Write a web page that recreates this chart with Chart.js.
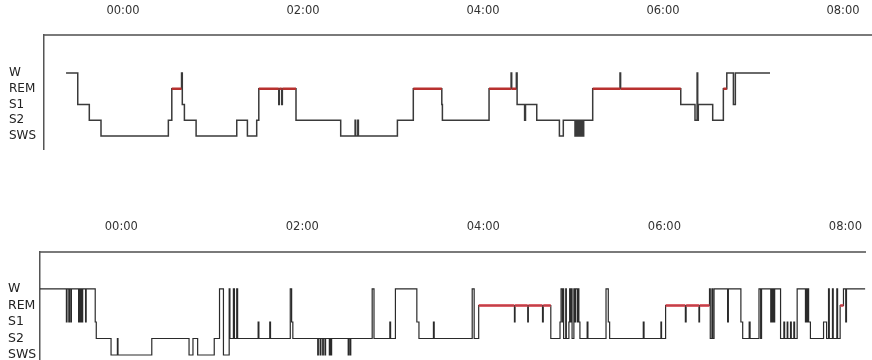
<!DOCTYPE html>
<html>
<head>
<meta charset="utf-8">
<script src="https://cdn.jsdelivr.net/npm/chart.js@4.4.1/dist/chart.umd.min.js"></script>
<style>
  html, body { margin: 0; padding: 0; background: #fff; overflow: hidden; }
  body { width: 872px; height: 360px; position: relative; }
  canvas { position: absolute; left: 0; }
  #topChart { top: 0; }
  #bottomChart { top: 215px; }
</style>
</head>
<body>
<canvas id="topChart" width="872" height="150"></canvas>
<canvas id="bottomChart" width="872" height="157"></canvas>
<script>
// sleep stages, lowest first
const stageLabels = ['SWS', 'S2', 'S1', 'REM', 'W'];
// clock ticks, minutes from midnight
const tickTimes = [0, 120, 240, 360, 480];

// upper hypnogram: minute where each stage starts
const topTimes = [
  -38, -30.2, -22.5, -14.7, 30.2, 32.5, 39, 39.5, 40.9, 48.7,
  75.8, 82.9, 89.1, 90.5, 103.8, 104.2, 105.8, 106.2, 115.3, 145.1,
  154.7, 155.1, 156.5, 156.9, 182.9, 193.5, 212.5, 212.9, 244, 258.7,
  259.1, 262.2, 262.7, 267.7, 268.3, 275.8, 290.9, 293.5, 301.3, 302,
  302.7, 303.3, 304, 304.7, 305.3, 306, 306.7, 307.1, 313.1, 331.3,
  331.7, 371.8, 381.3, 382.7, 383.1, 383.5, 393.1, 400.2, 402.5, 406.9,
  408.2, 431.3
];
const topStages = [
  'W', 'S1', 'S2', 'SWS', 'S2', 'REM', 'W', 'S1', 'S2', 'SWS',
  'S2', 'SWS', 'S2', 'REM', 'S1', 'REM', 'S1', 'REM', 'S2', 'SWS',
  'S2', 'SWS', 'S2', 'SWS', 'S2', 'REM', 'S1', 'S2', 'REM', 'W',
  'REM', 'W', 'S1', 'S2', 'S1', 'S2', 'SWS', 'S2', 'SWS', 'S2',
  'SWS', 'S2', 'SWS', 'S2', 'SWS', 'S2', 'SWS', 'S2', 'REM', 'W',
  'REM', 'S1', 'S2', 'W', 'S2', 'S1', 'S2', 'REM', 'W', 'S1',
  'W', 'W'
];

// lower hypnogram
const bottomTimes = [
  -53.9, -36.4, -36, -34.8, -34.4, -33.5, -33.1, -28.3, -27.8, -27.3,
  -26.8, -26.1, -25.6, -23.7, -23.3, -17.3, -16.6, -6.8, -2.6, -2.2,
  20.2, 44.9, 47.5, 50.6, 61.6, 65.1, 67.7, 71.5, 72, 74.3,
  75, 76.5, 77.1, 90.7, 91.2, 98.4, 98.9, 112, 112.9, 113.7,
  130.2, 130.6, 131.8, 132.3, 133.5, 133.9, 135, 135.4, 137.9, 138.3,
  138.9, 139.4, 150.4, 150.8, 151.7, 152.1, 166.3, 167.5, 178, 178.5,
  181.7, 195.9, 197.3, 206.9, 207.4, 232.6, 233.9, 236.9, 260.6, 261,
  269.4, 269.8, 279.2, 279.7, 284.7, 290.8, 291.5, 292.4, 292.8, 293.2,
  294.6, 295, 296.7, 297.2, 297.9, 298.3, 298.8, 300, 300.5, 301.1,
  302.3, 302.8, 303.3, 304, 308.8, 309.3, 321.3, 322.8, 323.7, 346,
  346.5, 357.7, 358.1, 360.8, 373.9, 374.4, 382.9, 383.3, 389.9, 390.4,
  391.5, 392, 392.9, 401.9, 402.4, 410.7, 411.9, 416.2, 416.8, 422.7,
  423.8, 424.4, 430.5, 431, 431.6, 432.2, 432.6, 433.1, 437, 439.2,
  439.7, 441.4, 441.8, 443.6, 444.1, 445.8, 446.3, 448, 453.5, 454,
  454.7, 455.2, 455.6, 456.8, 465.5, 467.5, 468.8, 469.3, 471.4, 471.9,
  474.3, 474.8, 476.5, 478.7, 480.2, 480.7, 493.2
];
const bottomStages = [
  'W', 'S1', 'W', 'S1', 'W', 'S1', 'W', 'S1', 'W', 'S1',
  'W', 'S1', 'W', 'S1', 'W', 'S1', 'S2', 'SWS', 'S2', 'SWS',
  'S2', 'SWS', 'S2', 'SWS', 'S2', 'W', 'SWS', 'W', 'S2', 'W',
  'S2', 'W', 'S2', 'S1', 'S2', 'S1', 'S2', 'W', 'S1', 'S2',
  'SWS', 'S2', 'SWS', 'S2', 'SWS', 'S2', 'SWS', 'S2', 'SWS', 'S2',
  'SWS', 'S2', 'SWS', 'S2', 'SWS', 'S2', 'W', 'S2', 'S1', 'S2',
  'W', 'S1', 'S2', 'S1', 'S2', 'W', 'S2', 'REM', 'S1', 'REM',
  'S1', 'REM', 'S1', 'REM', 'S2', 'S1', 'W', 'S1', 'W', 'S2',
  'W', 'S2', 'S1', 'W', 'S1', 'W', 'S2', 'W', 'S1', 'W',
  'S1', 'W', 'S1', 'S2', 'S1', 'S2', 'W', 'S1', 'S2', 'S1',
  'S2', 'S1', 'S2', 'REM', 'S1', 'REM', 'S1', 'REM', 'W', 'S2',
  'W', 'S2', 'W', 'S1', 'W', 'S1', 'S2', 'S1', 'S2', 'W',
  'S2', 'W', 'S1', 'W', 'S1', 'W', 'S1', 'W', 'S2', 'S1',
  'S2', 'S1', 'S2', 'S1', 'S2', 'S1', 'S2', 'W', 'S1', 'W',
  'S1', 'W', 'S1', 'S2', 'S1', 'S2', 'W', 'S2', 'W', 'S2',
  'W', 'S2', 'REM', 'W', 'S1', 'W', 'W'
];

function fmtClock(m) {
  const h = ((Math.floor(m / 60) % 24) + 24) % 24;
  const mm = Math.round(m - Math.floor(m / 60) * 60);
  return String(h).padStart(2, '0') + ':' + String(mm).padStart(2, '0');
}

function buildChart(id, times, stages, opt) {
  const steps = times.map((t, i) => ({ x: t, y: stageLabels.indexOf(stages[i]) }));

  // red overlay on every REM stretch
  const rem = [];
  steps.forEach((p, i) => {
    if (p.y === 3 && i < steps.length - 1) {
      rem.push({ x: p.x, y: 3 }, { x: steps[i + 1].x, y: 3 }, { x: steps[i + 1].x, y: null });
    }
  });

  return new Chart(document.getElementById(id), {
    type: 'line',
    data: {
      datasets: [
        {
          data: rem,
          borderColor: opt.remColor,
          borderWidth: opt.remWidth,
          pointRadius: 0,
          spanGaps: false,
          borderCapStyle: 'butt'
        },
        {
          data: steps,
          stepped: true,
          borderColor: opt.lineColor,
          borderWidth: opt.lineWidth,
          pointRadius: 0
        }
      ]
    },
    options: {
      responsive: false,
      animation: false,
      layout: { padding: { left: opt.padLeft, top: 0, right: 0, bottom: 0 } },
      plugins: { legend: { display: false }, tooltip: { enabled: false } },
      scales: {
        x: {
          type: 'linear',
          position: 'top',
          min: opt.xMin,
          max: opt.xMax,
          grid: { display: false },
          border: { display: true, color: '#7a7a7a', width: 2 },
          afterBuildTicks: s => { s.ticks = tickTimes.map(v => ({ value: v })); },
          afterFit: s => { s.height = opt.xHeight; },
          ticks: {
            padding: opt.xPad,
            maxRotation: 0,
            color: '#333',
            font: { family: 'DejaVu Sans', size: opt.xFont },
            callback: v => fmtClock(v)
          }
        },
        y: {
          type: 'linear',
          min: opt.yMin,
          max: opt.yMax,
          grid: { display: false },
          border: { display: true, color: '#555', width: 1.5 },
          afterBuildTicks: s => { s.ticks = stageLabels.map((l, i) => ({ value: i })); },
          afterFit: s => {
            s.width = opt.yWidth;
            s.paddingTop = 0;
            s.paddingBottom = 0;
          },
          ticks: {
            crossAlign: 'far',
            color: '#222',
            font: { family: 'DejaVu Sans', size: opt.yFont },
            callback: v => stageLabels[v]
          }
        }
      }
    }
  });
}

buildChart('topChart', topTimes, topStages, {
  xMin: -52.7, xMax: 499.3, yMin: -0.89, yMax: 6.41,
  xHeight: 35, xPad: 9, xFont: 11.5, yWidth: 35, yFont: 12, padLeft: 9,
  lineColor: '#3a3a3a', lineWidth: 1.5, remColor: '#b8312f', remWidth: 2.5
});

buildChart('bottomChart', bottomTimes, bottomStages, {
  xMin: -53.9, xMax: 493.2, yMin: -1.03, yMax: 6.24,
  xHeight: 37, xPad: 10, xFont: 11.5, yWidth: 32, yFont: 12.5, padLeft: 8,
  lineColor: '#2a2a2a', lineWidth: 1.2, remColor: 'rgba(214,70,80,0.85)', remWidth: 3
});
</script>
</body>
</html>
